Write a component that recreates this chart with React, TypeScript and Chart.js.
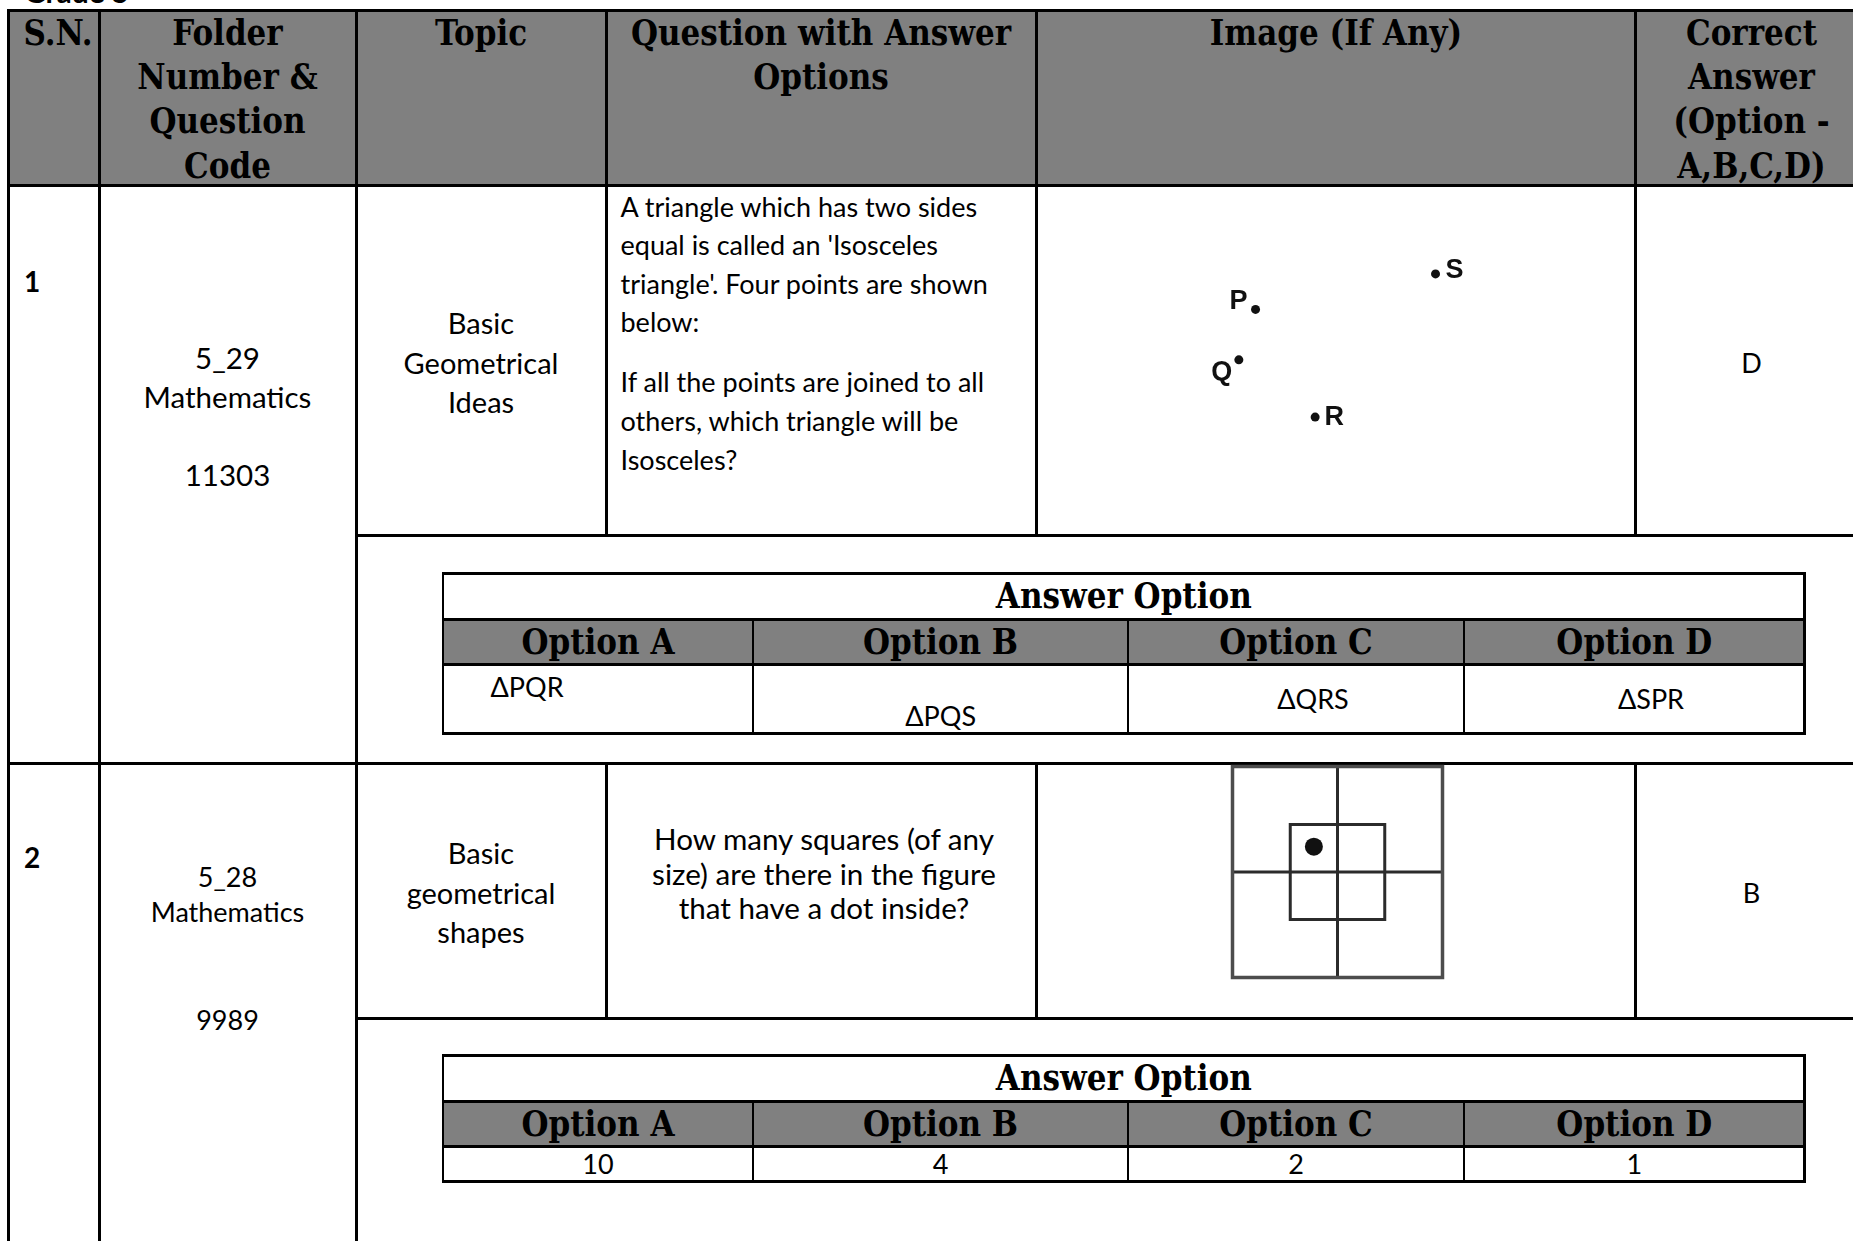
import React, { useEffect, useRef } from "react";
import { Chart, registerables } from "chart.js";

Chart.register(...registerables);

// ---------------- data ----------------
const headerSN = ["S.N."];
const headerFolder = ["Folder", "Number &", "Question", "Code"];
const headerTopic = ["Topic"];
const headerQuestion = ["Question with Answer", "Options"];
const headerImage = ["Image (If Any)"];
const headerCorrect = ["Correct", "Answer", "(Option -", "A,B,C,D)"];

const serialNumbers = ["1", "2"];
const folderCodes = ["5_29", "5_28"];
const subjects = ["Mathematics", "Mathematics"];
const questionCodes = ["11303", "9989"];
const topic1 = ["Basic", "Geometrical", "Ideas"];
const topic2 = ["Basic", "geometrical", "shapes"];
const question1 = [
  "A triangle which has two sides",
  "equal is called an 'Isosceles",
  "triangle'. Four points are shown",
  "below:",
  "If all the points are joined to all",
  "others, which triangle will be",
  "Isosceles?",
];
const question2 = [
  "How many squares (of any",
  "size) are there in the figure",
  "that have a dot inside?",
];
const answerTitle = "Answer Option";
const optionLabels = ["Option A", "Option B", "Option C", "Option D"];
const options1 = ["ΔPQR", "ΔPQS", "ΔQRS", "ΔSPR"];
const options2 = ["10", "4", "2", "1"];
const correctAnswers = ["D", "B"];

// figure 1: four points (x right, y up, 0..100 units)
const pointLabels = ["P", "Q", "R", "S"];
const pointX = [36.5, 33.7, 46.5, 66.7];
const pointY = [64.8, 50.2, 33.6, 75.1];

// figure 2: squares (units, y up)
const outerSquareX = [0, 4, 4, 0, 0];
const outerSquareY = [0, 0, 4, 4, 0];
const innerSquareX = [1.1, 2.9, 2.9, 1.1, 1.1];
const innerSquareY = [1.1, 1.1, 2.9, 2.9, 1.1];
const crossVX = [2, 2];
const crossVY = [0, 4];
const crossHX = [0, 4];
const crossHY = [2, 2];
const dotX = [1.55];
const dotY = [2.48];

// ---------------- styles / layout ----------------
const SERIF = '"DejaVu Serif Condensed", "DejaVu Serif", serif';
const SANS = 'Lato, "Noto Sans", sans-serif';
const GRAY = "#808080";
const HEAD_SIZE = 34.5;
const LABEL_OFFSETS: [number, number][] = [
  [-17, -8],
  [-17, 13],
  [19, 0],
  [19, -3],
];

const toPts = (xs: number[], ys: number[]) => xs.map((x, i) => ({ x, y: ys[i] }));

function HLine({ x1, x2, y, w = 3 }: { x1: number; x2: number; y: number; w?: number }) {
  return (
    <div
      style={{ position: "absolute", left: x1, top: y - w / 2, width: x2 - x1, height: w, background: "#000" }}
    />
  );
}
function VLine({ x, y1, y2, w = 3 }: { x: number; y1: number; y2: number; w?: number }) {
  return (
    <div
      style={{ position: "absolute", left: x - w / 2, top: y1, width: w, height: y2 - y1, background: "#000" }}
    />
  );
}
function Rect({ x1, x2, y1, y2, color }: { x1: number; x2: number; y1: number; y2: number; color: string }) {
  return <div style={{ position: "absolute", left: x1, top: y1, width: x2 - x1, height: y2 - y1, background: color }} />;
}
function Txt({
  x,
  y,
  text,
  size,
  bold = false,
  serif = false,
  align = "center",
}: {
  x: number;
  y: number;
  text: string;
  size: number;
  bold?: boolean;
  serif?: boolean;
  align?: "center" | "left";
}) {
  return (
    <div
      style={{
        position: "absolute",
        left: x,
        top: y,
        whiteSpace: "pre",
        lineHeight: 1,
        fontSize: size,
        fontFamily: serif ? SERIF : SANS,
        fontStretch: serif ? "condensed" : "normal",
        fontWeight: bold ? 700 : 400,
        color: "#000",
        transform: align === "center" ? "translate(-50%, -50%)" : "translate(0, -50%)",
      }}
    >
      {text}
    </div>
  );
}

function PointsFigure() {
  const ref = useRef<HTMLCanvasElement>(null);
  useEffect(() => {
    if (!ref.current) return;
    const labelPlugin = {
      id: "pointLabels",
      afterDatasetsDraw(chart: any) {
        const meta = chart.getDatasetMeta(0);
        const ctx = chart.ctx;
        ctx.save();
        ctx.font = 'bold 27px "Liberation Sans", Arial, sans-serif';
        ctx.fillStyle = "#111";
        ctx.textAlign = "center";
        ctx.textBaseline = "middle";
        meta.data.forEach((el: any, i: number) => {
          const [dx, dy] = LABEL_OFFSETS[i];
          ctx.fillText(pointLabels[i], el.x + dx, el.y + dy);
        });
        ctx.restore();
      },
    };
    const chart = new Chart(ref.current, {
      type: "scatter",
      data: {
        datasets: [
          {
            data: toPts(pointX, pointY),
            pointRadius: 4.5,
            pointBackgroundColor: "#111",
            pointBorderWidth: 0,
            clip: false as any,
          },
        ],
      },
      options: {
        animation: false,
        responsive: false,
        devicePixelRatio: 1,
        events: [],
        layout: { padding: 0, autoPadding: false },
        plugins: { legend: { display: false }, tooltip: { enabled: false } },
        scales: {
          x: { type: "linear", min: 0, max: 100, display: false },
          y: { type: "linear", min: 0, max: 100, display: false },
        },
      },
      plugins: [labelPlugin],
    });
    return () => chart.destroy();
  }, []);
  return (
    <canvas
      ref={ref}
      width={596}
      height={345}
      style={{ position: "absolute", left: 1038, top: 188, width: 596, height: 345 }}
    />
  );
}

function SquaresFigure() {
  const ref = useRef<HTMLCanvasElement>(null);
  useEffect(() => {
    if (!ref.current) return;
    const lineDs = (xs: number[], ys: number[], color: string, w: number) => ({
      data: toPts(xs, ys),
      showLine: true,
      borderColor: color,
      borderWidth: w,
      pointRadius: 0,
      borderJoinStyle: "miter" as const,
      borderCapStyle: "square" as const,
      clip: false as any,
    });
    const chart = new Chart(ref.current, {
      type: "scatter",
      data: {
        datasets: [
          lineDs(outerSquareX, outerSquareY, "#4d4d4d", 3.5),
          lineDs(crossVX, crossVY, "#2b2b2b", 3),
          lineDs(crossHX, crossHY, "#2b2b2b", 3),
          lineDs(innerSquareX, innerSquareY, "#2b2b2b", 3),
          {
            data: toPts(dotX, dotY),
            pointRadius: 9,
            pointBackgroundColor: "#111",
            pointBorderWidth: 0,
          },
        ],
      },
      options: {
        animation: false,
        responsive: false,
        devicePixelRatio: 1,
        events: [],
        layout: { padding: 0, autoPadding: false },
        plugins: { legend: { display: false }, tooltip: { enabled: false } },
        scales: {
          x: { type: "linear", min: -0.2, max: 4.2, display: false },
          y: { type: "linear", min: -0.2, max: 4.2, display: false },
        },
      },
    });
    return () => chart.destroy();
  }, []);
  return (
    <canvas
      ref={ref}
      width={231}
      height={232}
      style={{ position: "absolute", left: 1222, top: 756, width: 231, height: 232 }}
    />
  );
}

// layout constants
const X_LEFT = 8;
const X_SN = 99;
const X_FOLDER = 356;
const X_TOPIC = 606;
const X_QUESTION = 1036.5;
const X_IMAGE = 1635.5;
const X_RIGHT = 1853;
const Y_TOP = 10;
const Y_HEAD = 185.5;
const Y_R1_MID = 535;
const Y_R1_BOT = 763.5;
const Y_R2_MID = 1018.7;
const Y_BOTTOM = 1241;

const A_LEFT = 443;
const A_RIGHT = 1804.6;
const A_DIV = [753, 1128, 1464];
const OPT_CX = [598, 940.5, 1296, 1634.3];

const HEAD_Y = [33, 77, 120.5, 165.5];
const COL_CX = { folder: 227.5, topic: 481, question: 821, image: 1336, correct: 1751.5 };

function AnswerTable({ top, r1, r2, bottom }: { top: number; r1: number; r2: number; bottom: number }) {
  return (
    <>
      <Rect x1={A_LEFT} x2={A_RIGHT} y1={r1} y2={r2} color={GRAY} />
      <HLine x1={A_LEFT} x2={A_RIGHT} y={top} />
      <HLine x1={A_LEFT} x2={A_RIGHT} y={r1} />
      <HLine x1={A_LEFT} x2={A_RIGHT} y={r2} />
      <HLine x1={A_LEFT} x2={A_RIGHT} y={bottom} />
      <VLine x={A_LEFT} y1={top - 1.5} y2={bottom + 1.5} w={2.5} />
      <VLine x={A_RIGHT} y1={top - 1.5} y2={bottom + 1.5} w={2.5} />
      {A_DIV.map((x) => (
        <VLine key={x} x={x} y1={r1} y2={bottom} w={2} />
      ))}
      <Txt x={(A_LEFT + A_RIGHT) / 2} y={(top + r1) / 2} text={answerTitle} size={HEAD_SIZE} bold serif />
      {optionLabels.map((t, i) => (
        <Txt key={t} x={OPT_CX[i]} y={(r1 + r2) / 2} text={t} size={HEAD_SIZE} bold serif />
      ))}
    </>
  );
}

export default function App() {
  const qLines1Y = [206.8, 244.6, 283.6, 321.5, 381.7, 420.7, 459.7];
  const q2Y = [840.3, 874.5, 908.8];
  const opt1Pos: { x: number; y: number; align: "left" | "center" }[] = [
    { x: 490.5, y: 686.6, align: "left" },
    { x: 940.7, y: 716, align: "center" },
    { x: 1313, y: 698.5, align: "center" },
    { x: 1651, y: 698.5, align: "center" },
  ];
  return (
    <div
      style={{
        position: "fixed",
        left: 0,
        top: 0,
        width: 1853,
        height: 1241,
        overflow: "hidden",
        background: "#fff",
      }}
    >
      {/* page title, mostly cut off */}
      <div
        style={{
          position: "absolute",
          left: 24,
          top: -24,
          fontFamily: SANS,
          fontWeight: 700,
          fontSize: 30,
          lineHeight: "30px",
          whiteSpace: "pre",
        }}
      >
        Grade 5
      </div>

      {/* header background */}
      <Rect x1={X_LEFT} x2={X_RIGHT} y1={Y_TOP} y2={Y_HEAD} color={GRAY} />

      {/* main grid */}
      <HLine x1={X_LEFT - 1.5} x2={X_RIGHT} y={Y_TOP} />
      <HLine x1={X_LEFT - 1.5} x2={X_RIGHT} y={Y_HEAD} />
      <HLine x1={X_FOLDER} x2={X_RIGHT} y={Y_R1_MID} />
      <HLine x1={X_LEFT - 1.5} x2={X_RIGHT} y={Y_R1_BOT} />
      <HLine x1={X_FOLDER} x2={X_RIGHT} y={Y_R2_MID} />
      <VLine x={X_LEFT} y1={Y_TOP} y2={Y_BOTTOM} />
      <VLine x={X_SN} y1={Y_TOP} y2={Y_BOTTOM} />
      <VLine x={X_FOLDER} y1={Y_TOP} y2={Y_BOTTOM} />
      {[X_TOPIC, X_QUESTION, X_IMAGE].map((x) => (
        <React.Fragment key={x}>
          <VLine x={x} y1={Y_TOP} y2={Y_R1_MID} />
          <VLine x={x} y1={Y_R1_BOT} y2={Y_R2_MID} />
        </React.Fragment>
      ))}

      {/* header text */}
      <Txt x={23.6} y={HEAD_Y[0]} text={headerSN[0]} size={HEAD_SIZE} bold serif align="left" />
      {headerFolder.map((t, i) => (
        <Txt key={t} x={COL_CX.folder} y={HEAD_Y[i]} text={t} size={HEAD_SIZE} bold serif />
      ))}
      <Txt x={COL_CX.topic} y={HEAD_Y[0]} text={headerTopic[0]} size={HEAD_SIZE} bold serif />
      {headerQuestion.map((t, i) => (
        <Txt key={t} x={COL_CX.question} y={HEAD_Y[i]} text={t} size={HEAD_SIZE} bold serif />
      ))}
      <Txt x={COL_CX.image} y={HEAD_Y[0]} text={headerImage[0]} size={HEAD_SIZE} bold serif />
      {headerCorrect.map((t, i) => (
        <Txt key={t} x={COL_CX.correct} y={HEAD_Y[i]} text={t} size={HEAD_SIZE} bold serif />
      ))}

      {/* row 1 */}
      <Txt x={24} y={281} text={serialNumbers[0]} size={28} bold align="left" />
      <Txt x={COL_CX.folder} y={358} text={folderCodes[0]} size={29.5} />
      <Txt x={COL_CX.folder} y={397} text={subjects[0]} size={29.5} />
      <Txt x={COL_CX.folder} y={475} text={questionCodes[0]} size={29.5} />
      {topic1.map((t, i) => (
        <Txt key={t} x={COL_CX.topic} y={[321.6, 361.8, 400.8][i]} text={t} size={29} />
      ))}
      {question1.map((t, i) => (
        <Txt key={t} x={620.5} y={qLines1Y[i] - 1} text={t} size={27} align="left" />
      ))}
      <PointsFigure />
      <Txt x={COL_CX.correct} y={362} text={correctAnswers[0]} size={27} />
      <AnswerTable top={573} r1={619} r2={664.3} bottom={733.5} />
      {options1.map((t, i) => (
        <Txt key={t} x={opt1Pos[i].x} y={opt1Pos[i].y - 1} text={t} size={27} align={opt1Pos[i].align} />
      ))}

      {/* row 2 */}
      <Txt x={24} y={857} text={serialNumbers[1]} size={28} bold align="left" />
      <Txt x={COL_CX.folder} y={876} text={folderCodes[1]} size={27} />
      <Txt x={COL_CX.folder} y={911.4} text={subjects[1]} size={27} />
      <Txt x={COL_CX.folder} y={1019} text={questionCodes[1]} size={27} />
      {topic2.map((t, i) => (
        <Txt key={t} x={COL_CX.topic} y={[852.3, 892.4, 931.4][i]} text={t} size={29} />
      ))}
      {question2.map((t, i) => (
        <Txt key={t} x={824} y={q2Y[i] - 1} text={t} size={29.6} />
      ))}
      <SquaresFigure />
      <Txt x={COL_CX.correct} y={892.4} text={correctAnswers[1]} size={27} />
      <AnswerTable top={1055.3} r1={1101} r2={1146} bottom={1181.8} />
      {options2.map((t, i) => (
        <Txt key={t} x={OPT_CX[i]} y={1163} text={t} size={27} />
      ))}
    </div>
  );
}
